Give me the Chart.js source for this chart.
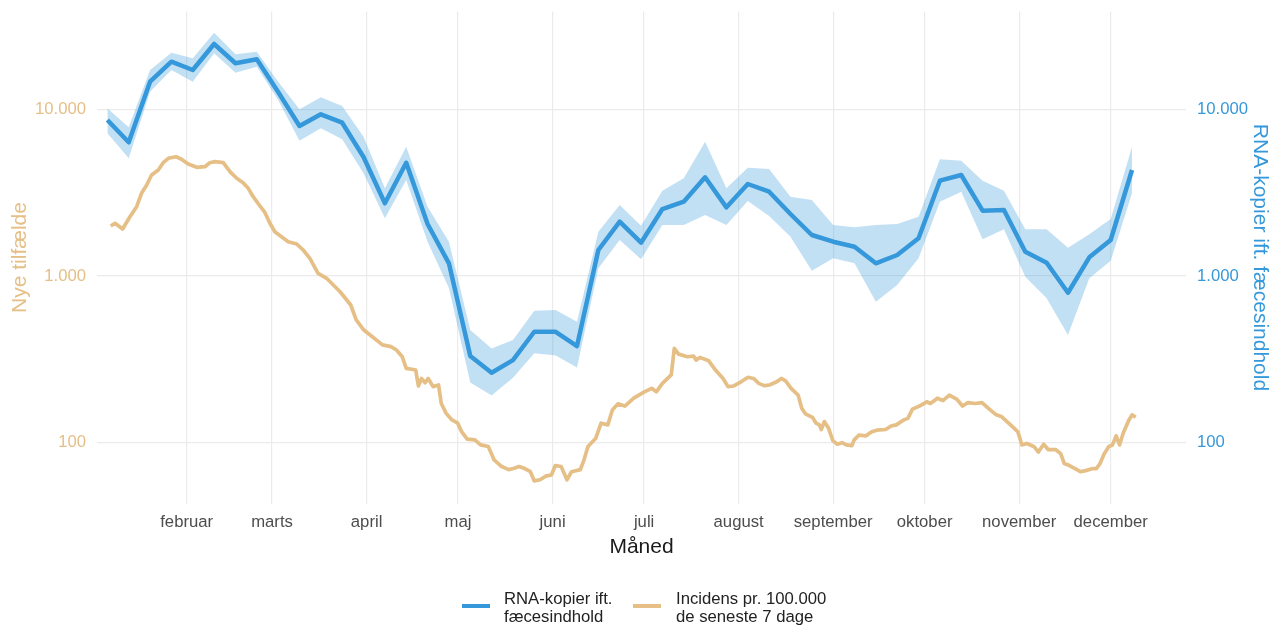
<!DOCTYPE html>
<html lang="da">
<head>
<meta charset="utf-8">
<title>RNA-kopier og incidens</title>
<script src="https://cdn.jsdelivr.net/npm/chart.js@4.4.0/dist/chart.umd.min.js"></script>
<style>
  html, body { margin: 0; padding: 0; background: #fff; }
  #wrap { position: relative; width: 1278px; height: 628px; font-family: "Liberation Sans", Arial, sans-serif; }
  #chart { position: absolute; left: 0; top: 0; }
  .key { position: absolute; top: 604px; width: 27.5px; height: 4px; }
  .lab { position: absolute; top: 590px; font-size: 16.7px; line-height: 17.5px; color: #222; white-space: nowrap; }
</style>
</head>
<body>
<div id="wrap">
  <canvas id="chart" width="1278" height="628"></canvas>
  <div id="legend"></div>
</div>
<script>
// day of year (0 = 1. januar)
const monthStarts = [31, 59, 90, 120, 151, 181, 212, 243, 273, 304, 334];
const monthLabels = ['februar', 'marts', 'april', 'maj', 'juni', 'juli', 'august', 'september', 'oktober', 'november', 'december'];

const yTickValues = [100, 1000, 10000];
const yTickLabels = ['100', '1.000', '10.000'];

// ugentlige spildevandsmålinger
const rnaDays = [5, 12, 19, 26, 33, 40, 47, 54, 61, 68, 75, 82, 89, 96, 103, 110, 117, 124, 131, 138,
  145, 152, 159, 166, 173, 180, 187, 194, 201, 208, 215, 222, 229, 236, 243, 250, 257, 264, 271, 278,
  285, 292, 299, 306, 313, 320, 327, 334, 341];
const rnaMid = [8630, 6340, 14640, 19300, 17210, 24650, 18880, 19950, 12700, 7940,
  9330, 8310, 5170, 2730, 4780, 2050, 1191, 331, 263, 313,
  463, 463, 380, 1432, 2117, 1584, 2522, 2790, 3910, 2582,
  3564, 3205, 2355, 1762, 1606, 1499, 1192, 1337, 1683, 3732,
  4036, 2464, 2488, 1399, 1202, 794, 1294, 1644, 4325];
const rnaHigh = [10140, 7800, 17210, 21850, 20230, 28810, 21380, 22160, 14640, 10000,
  11800, 10470, 6850, 3360, 5960, 2604, 1606, 474, 368, 413,
  619, 625, 532, 1845, 2667, 2003, 3250, 3855, 6394, 3360,
  4465, 4385, 2990, 2856, 2023, 1959, 2023, 2051, 2270, 5010,
  4920, 3732, 3250, 1905, 1905, 1479, 1778, 2198, 5960];
const rnaLow = [7180, 5080, 12750, 17210, 14640, 21680, 16580, 18010, 11370, 6480,
  7690, 6610, 4130, 2220, 3770, 1606, 847, 230, 192, 245,
  344, 334, 283, 1112, 1644, 1259, 2023, 2023, 2323, 2023,
  2818, 2291, 1720, 1076, 1277, 1192, 701, 883, 1277, 2790,
  3205, 1660, 1905, 991, 735, 443, 968, 1236, 3133];

// incidens pr. 100.000, seneste 7 dage
const incDays = [6.1, 7.5, 10.0, 12.4, 14.6, 16.2, 17.9, 19.5, 21.7, 23.3,
  25.0, 27.5, 29.3, 31.5, 34.3, 37.0, 38.6, 40.3, 43.0, 45.2,
  47.4, 49.5, 51.2, 52.8, 54.8, 56.7, 58.3, 59.9, 62.1, 64.3,
  67.1, 69.2, 71.4, 74.1, 76.9, 79.1, 81.3, 83.5, 84.8, 86.6,
  89.1, 91.9, 95.2, 98.0, 99.8, 101.7, 103.0, 104.8, 106.1, 107.0,
  108.0, 109.2, 110.2, 111.8, 113.6, 114.5, 116.1, 118.0, 119.9, 121.2,
  123.0, 125.5, 127.4, 129.9, 131.8, 134.3, 136.6, 138.1, 140.0, 141.9,
  143.7, 145.0, 146.9, 148.7, 150.6, 151.9, 153.8, 155.7, 157.2, 160.1,
  161.3, 162.6, 165.1, 166.9, 169.1, 170.6, 172.4, 174.7, 177.6, 181.1,
  183.5, 185.0, 187.0, 189.9, 190.9, 192.3, 195.2, 197.2, 198.1, 199.3,
  202.2, 204.6, 206.9, 208.5, 210.4, 212.8, 215.1, 216.9, 218.6, 220.4,
  222.1, 224.5, 226.0, 227.4, 229.2, 231.5, 232.7, 233.9, 236.2, 237.4,
  238.5, 239.1, 240.1, 241.5, 242.9, 244.4, 245.9, 247.3, 249.1, 249.9,
  251.4, 253.8, 255.5, 257.3, 260.2, 262.0, 263.7, 266.1, 267.5, 269.0,
  271.3, 273.7, 274.9, 277.2, 279.0, 281.1, 283.6, 285.4, 287.2, 289.5,
  291.8, 294.2, 296.5, 298.3, 300.0, 302.4, 303.6, 304.9, 306.5, 308.8,
  310.3, 312.0, 313.5, 315.9, 317.6, 318.8, 320.5, 322.3, 324.1, 325.8,
  328.2, 329.3, 330.5, 331.9, 333.4, 334.6, 335.8, 336.9, 338.1, 339.9,
  341.0, 342.2];
const incValues = [1995, 2071, 1914, 2268, 2604, 3133, 3515, 4036, 4324, 4783,
  5083, 5196, 5013, 4698, 4488, 4525, 4783, 4850, 4783, 4224,
  3856, 3628, 3358, 2990, 2666, 2398, 2071, 1844, 1721, 1606,
  1556, 1432, 1277, 1038, 969, 883, 805, 718, 670, 545,
  474, 432, 386, 377, 360, 328, 279, 276, 273, 219,
  243, 229, 243, 217, 222, 172, 150, 137, 131, 116,
  105, 104, 97, 95, 79, 72, 69, 70, 72, 70,
  67, 59, 60, 63, 64, 73, 72, 60, 67, 69,
  79, 95, 106, 131, 128, 157, 171, 166, 185, 202,
  212, 202, 227, 255, 368, 340, 328, 331, 313, 325,
  310, 270, 243, 217, 219, 232, 247, 243, 227, 220,
  222, 232, 243, 235, 212, 193, 161, 149, 142, 131,
  128, 120, 134, 122, 103, 98, 100, 97, 96, 104,
  111, 110, 116, 119, 120, 126, 128, 137, 140, 159,
  166, 176, 172, 185, 179, 193, 182, 166, 174, 172,
  174, 159, 147, 143, 134, 122, 116, 97, 99, 95,
  88, 98, 91, 91, 86, 75, 73, 70, 67, 68,
  70, 70, 75, 86, 95, 97, 110, 97, 114, 136,
  147, 142];

const tan = '#E5BF86';
const blue = '#3498DB';
const band = 'rgba(52, 152, 219, 0.3)';
const none = 'rgba(0, 0, 0, 0)';

Chart.defaults.font.family = '"Liberation Sans", Arial, sans-serif';

function points(xs, ys) {
  return xs.map((x, i) => ({ x: x, y: ys[i] }));
}

function fixedTicks(values) {
  return scale => { scale.ticks = values.map(v => ({ value: v })); };
}

// fixed axis width; no extra room reserved for the outer tick labels
function fixedWidth(w) {
  return scale => {
    scale.width = w;
    scale.paddingTop = 0;
    scale.paddingBottom = 0;
  };
}

const yMin = 43.2;
const yMax = 38600;

new Chart(document.getElementById('chart'), {
  type: 'line',
  data: {
    datasets: [
      { label: 'øvre', data: points(rnaDays, rnaHigh), yAxisID: 'y2',
        borderColor: none, borderWidth: 0, pointRadius: 0, fill: false, order: 3 },
      { label: 'nedre', data: points(rnaDays, rnaLow), yAxisID: 'y2',
        borderColor: none, borderWidth: 0, pointRadius: 0, backgroundColor: band, fill: '-1', order: 2 },
      { label: 'RNA-kopier ift. fæcesindhold', data: points(rnaDays, rnaMid), yAxisID: 'y2',
        borderColor: blue, borderWidth: 4.5, pointRadius: 0, fill: false, order: 0 },
      { label: 'Incidens pr. 100.000 de seneste 7 dage', data: points(incDays, incValues), yAxisID: 'y',
        borderColor: tan, borderWidth: 3.7, pointRadius: 0, fill: false, order: 1 }
    ]
  },
  options: {
    responsive: false,
    animation: false,
    layout: { autoPadding: false, padding: { left: 0, right: 0, top: 11.5, bottom: 68.5 } },
    elements: { line: { tension: 0, borderJoinStyle: 'round' } },
    plugins: { legend: { display: false }, tooltip: { enabled: false } },
    scales: {
      x: {
        type: 'linear',
        min: 1.6,
        max: 358.7,
        afterBuildTicks: fixedTicks(monthStarts),
        afterFit: s => { s.height = 56; s.paddingLeft = 0; s.paddingRight = 0; },
        grid: { color: '#EBEBEB', lineWidth: 1.2, drawTicks: false },
        border: { display: false },
        ticks: { autoSkip: false, maxRotation: 0, padding: 9, color: '#4D4D4D',
          font: { size: 16.7 }, callback: (v, i) => monthLabels[i] },
        title: { display: true, text: 'Måned', color: '#1A1A1A', font: { size: 21 },
          padding: { top: 0, bottom: 0 } }
      },
      y: {
        type: 'logarithmic',
        position: 'left',
        min: yMin,
        max: yMax,
        afterBuildTicks: fixedTicks(yTickValues),
        afterFit: fixedWidth(97),
        grid: { color: '#EBEBEB', lineWidth: 1.2, drawTicks: false },
        border: { display: false },
        ticks: { padding: 11, color: tan, font: { size: 16.7 }, callback: (v, i) => yTickLabels[i] },
        title: { display: true, text: 'Nye tilfælde', color: tan, font: { size: 21 },
          padding: { top: 8, bottom: 0 } }
      },
      y2: {
        type: 'logarithmic',
        position: 'right',
        min: yMin,
        max: yMax,
        afterBuildTicks: fixedTicks(yTickValues),
        afterFit: fixedWidth(92),
        grid: { display: false, drawTicks: false },
        border: { display: false },
        ticks: { padding: 11, color: blue, font: { size: 16.7 }, callback: (v, i) => yTickLabels[i] },
        title: { display: true, text: 'RNA-kopier ift. fæcesindhold', color: blue, font: { size: 21 },
          padding: { top: 6, bottom: 0 } }
      }
    }
  }
});

// legend below the plot, two-line labels
const legendItems = [
  { color: blue, lines: ['RNA-kopier ift.', 'fæcesindhold'], keyX: 462, textX: 504 },
  { color: tan, lines: ['Incidens pr. 100.000', 'de seneste 7 dage'], keyX: 633, textX: 676 }
];
const legend = document.getElementById('legend');
legendItems.forEach(item => {
  const key = document.createElement('div');
  key.className = 'key';
  key.style.left = item.keyX + 'px';
  key.style.background = item.color;
  legend.appendChild(key);

  const lab = document.createElement('div');
  lab.className = 'lab';
  lab.style.left = item.textX + 'px';
  lab.innerHTML = item.lines.join('<br>');
  legend.appendChild(lab);
});
</script>
</body>
</html>
